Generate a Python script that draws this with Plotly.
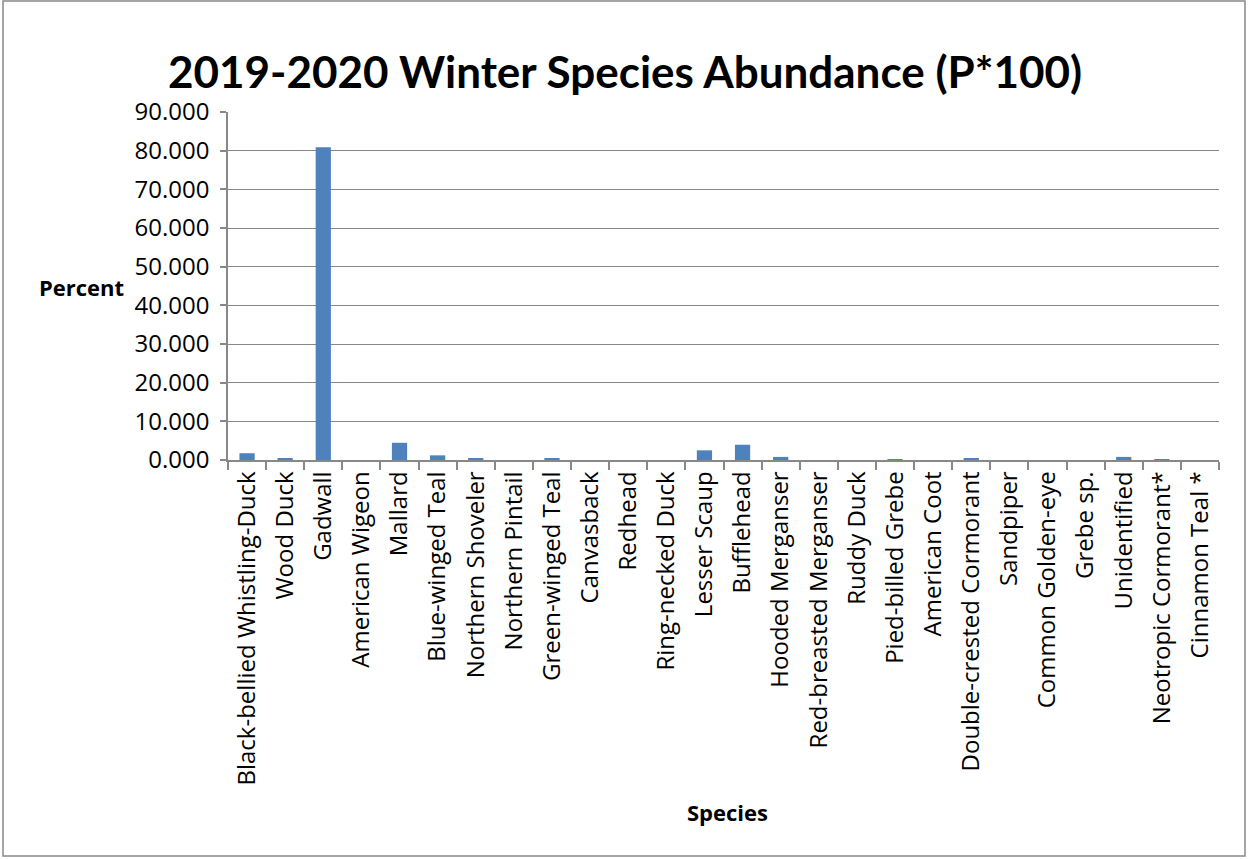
import plotly.graph_objects as go

species = ["Black-bellied Whistling-Duck", "Wood Duck", "Gadwall", "American Wigeon", "Mallard",
           "Blue-winged Teal", "Northern Shoveler", "Northern Pintail", "Green-winged Teal", "Canvasback",
           "Redhead", "Ring-necked Duck", "Lesser Scaup", "Bufflehead", "Hooded Merganser",
           "Red-breasted Merganser", "Ruddy Duck", "Pied-billed Grebe", "American Coot",
           "Double-crested Cormorant", "Sandpiper", "Common Golden-eye", "Grebe sp.", "Unidentified",
           "Neotropic Cormorant*", "Cinnamon Teal *"]
percent = [1.75, 0.45, 80.9, 0.0, 4.45, 1.2, 0.45, 0.0, 0.45, 0.0,
           0.0, 0.0, 2.5, 3.95, 0.8, 0.0, 0.0, 0.05, 0.0,
           0.5, 0.0, 0.0, 0.0, 0.8, 0.15, 0.0]
y_ticks = [0, 10, 20, 30, 40, 50, 60, 70, 80, 90]

W, H = 1249, 859
L, R, T, B = 228, 1219, 112, 460
tfont = "Lato, sans-serif"
kfont = "'Open Sans', sans-serif"

fig = go.Figure(go.Bar(x=species, y=percent, marker=dict(color="#4F81BD", line=dict(width=0)), width=0.4))

def px(x):
    return (x - L) / (R - L)

def py(y):
    return (B - y) / (B - T)

fig.update_layout(
    width=W, height=H,
    margin=dict(l=L, r=W - R, t=T, b=H - B),
    paper_bgcolor="white", plot_bgcolor="white",
    showlegend=False,
    font=dict(family=kfont, color="black", size=24),
    title=dict(text="<b>2019-2020 Winter Species Abundance (P*100)</b>",
               x=px(625), xref="paper", xanchor="center",
               y=1 - 73 / H, yref="container", yanchor="middle",
               font=dict(size=44, family=tfont, color="black")),
    xaxis=dict(type="category", tickangle=-90, tickson="boundaries",
               showgrid=False, showline=True, linecolor="#888888", linewidth=1.5,
               ticks="outside", ticklen=8, tickcolor="#888888", tickwidth=1.5,
               tickfont=dict(size=24, family=kfont), range=[-0.5, len(species) - 0.5]),
    yaxis=dict(range=[0, 90], tickvals=y_ticks, tickformat=".3f",
               showgrid=True, gridcolor="#888888", gridwidth=1.3,
               showline=True, linecolor="#888888", linewidth=1.5,
               ticks="outside", ticklen=6, tickcolor="#888888", tickwidth=1.5,
               ticklabelstandoff=6,
               tickfont=dict(size=24, family=kfont), zeroline=False),
    annotations=[
        dict(text="<b>Percent</b>", x=px(81.5), y=py(287), xref="paper", yref="paper",
             xanchor="center", yanchor="middle",
             showarrow=False, font=dict(size=22, family=kfont)),
        dict(text="<b>Species</b>", x=px(727), y=py(812), xref="paper", yref="paper",
             xanchor="center", yanchor="middle",
             showarrow=False, font=dict(size=22, family=kfont)),
    ],
    shapes=[dict(type="rect", xref="paper", yref="paper",
                 x0=px(3), x1=px(1245), y0=py(856), y1=py(1),
                 line=dict(color="#888888", width=1.5), fillcolor="rgba(0,0,0,0)", layer="below")],
)

fig.write_html("out.html")
